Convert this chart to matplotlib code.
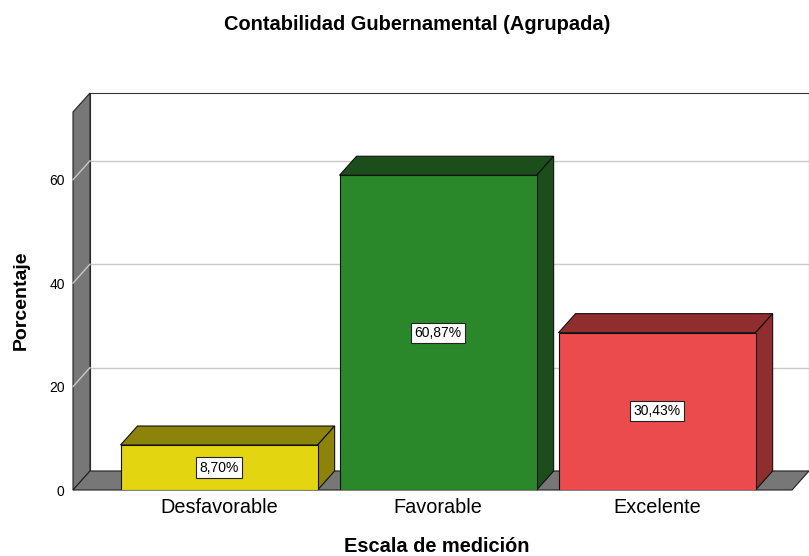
import matplotlib
matplotlib.use("Agg")
import matplotlib.pyplot as plt
from matplotlib.patches import Polygon, Rectangle

plt.rcParams["font.family"] = ["Liberation Sans", "DejaVu Sans"]

categories = ["Desfavorable", "Favorable", "Excelente"]
percentages = [8.70, 60.87, 30.43]
bar_labels = ["8,70%", "60,87%", "30,43%"]
y_ticks = [0, 20, 40, 60]

front_colors = ["#E3D50F", "#2A872A", "#EC4B4E"]
shade_colors = ["#8B830A", "#1C4E1C", "#8F2D2F"]
wall_color = "#777777"
grid_color = "#C8C8C8"

fig = plt.figure(figsize=(8.09, 5.56), dpi=100)
ax = fig.add_axes([73 / 809, 66 / 556, 719 / 809, 378 / 556])

xmin, xmax = -0.667, 2.616
ymax = 73.1
ax.set_xlim(xmin, xmax)
ax.set_ylim(0, ymax)

# depth of the fake 3D effect in data units (about 17px right, 19px up)
dx = 17 / 219
dy = 19 / 5.17

# back wall
ax.add_patch(Rectangle((xmin + dx, dy), xmax - xmin, ymax, facecolor="white",
                       edgecolor="#333333", lw=0.8, clip_on=False, zorder=1))
# left wall and floor
ax.add_patch(Polygon([(xmin, 0), (xmin, ymax), (xmin + dx, ymax + dy), (xmin + dx, dy)],
                     closed=True, facecolor=wall_color, edgecolor="#222222", lw=0.8,
                     clip_on=False, zorder=2))
ax.add_patch(Polygon([(xmin, 0), (xmax, 0), (xmax + dx, dy), (xmin + dx, dy)],
                     closed=True, facecolor=wall_color, edgecolor="#222222", lw=0.8,
                     clip_on=False, zorder=2))

# gridlines on back wall and left wall
for v in y_ticks[1:]:
    ax.plot([xmin + dx, xmax + dx], [v + dy, v + dy], color=grid_color, lw=1,
            clip_on=False, zorder=1.5)
    ax.plot([xmin, xmin + dx], [v, v + dy], color=grid_color, lw=1,
            clip_on=False, zorder=2.5)

# bars
width = 0.9
for i, (val, fc, sc, lab) in enumerate(zip(percentages, front_colors, shade_colors, bar_labels)):
    x0 = i - width / 2
    x1 = i + width / 2
    ax.add_patch(Polygon([(x0, val), (x1, val), (x1 + dx, val + dy), (x0 + dx, val + dy)],
                         closed=True, facecolor=sc, edgecolor="#111111", lw=0.8,
                         clip_on=False, zorder=3))
    ax.add_patch(Polygon([(x1, 0), (x1, val), (x1 + dx, val + dy), (x1 + dx, dy)],
                         closed=True, facecolor=sc, edgecolor="#111111", lw=0.8,
                         clip_on=False, zorder=3))
    ax.bar(i, val, width=width, color=fc, edgecolor="#111111", lw=0.8, zorder=4)
    ax.text(i, val / 2, lab, ha="center", va="center", fontsize=10, zorder=5,
            bbox=dict(boxstyle="square,pad=0.22", facecolor="white",
                      edgecolor="#222222", lw=0.8))

for s in ax.spines.values():
    s.set_visible(False)
ax.set_xticks(range(len(categories)))
ax.set_xticklabels(categories, fontsize=14.3)
ax.set_yticks(y_ticks)
ax.set_yticklabels([str(t) for t in y_ticks], fontsize=10)
ax.tick_params(axis="x", length=0, pad=6)
ax.tick_params(axis="y", length=0, pad=6)

fig.text(417 / 809, 1 - 25 / 556, "Contabilidad Gubernamental (Agrupada)",
         ha="center", va="center", fontsize=14.4, fontweight="bold")
fig.text(21 / 809, 1 - 300 / 556, "Porcentaje", rotation=90, ha="center",
         va="center", fontsize=14, fontweight="bold")
fig.text(437 / 809, 1 - 547 / 556, "Escala de medición", ha="center",
         va="center", fontsize=14.4, fontweight="bold")

fig.savefig("out.png", dpi=100)
